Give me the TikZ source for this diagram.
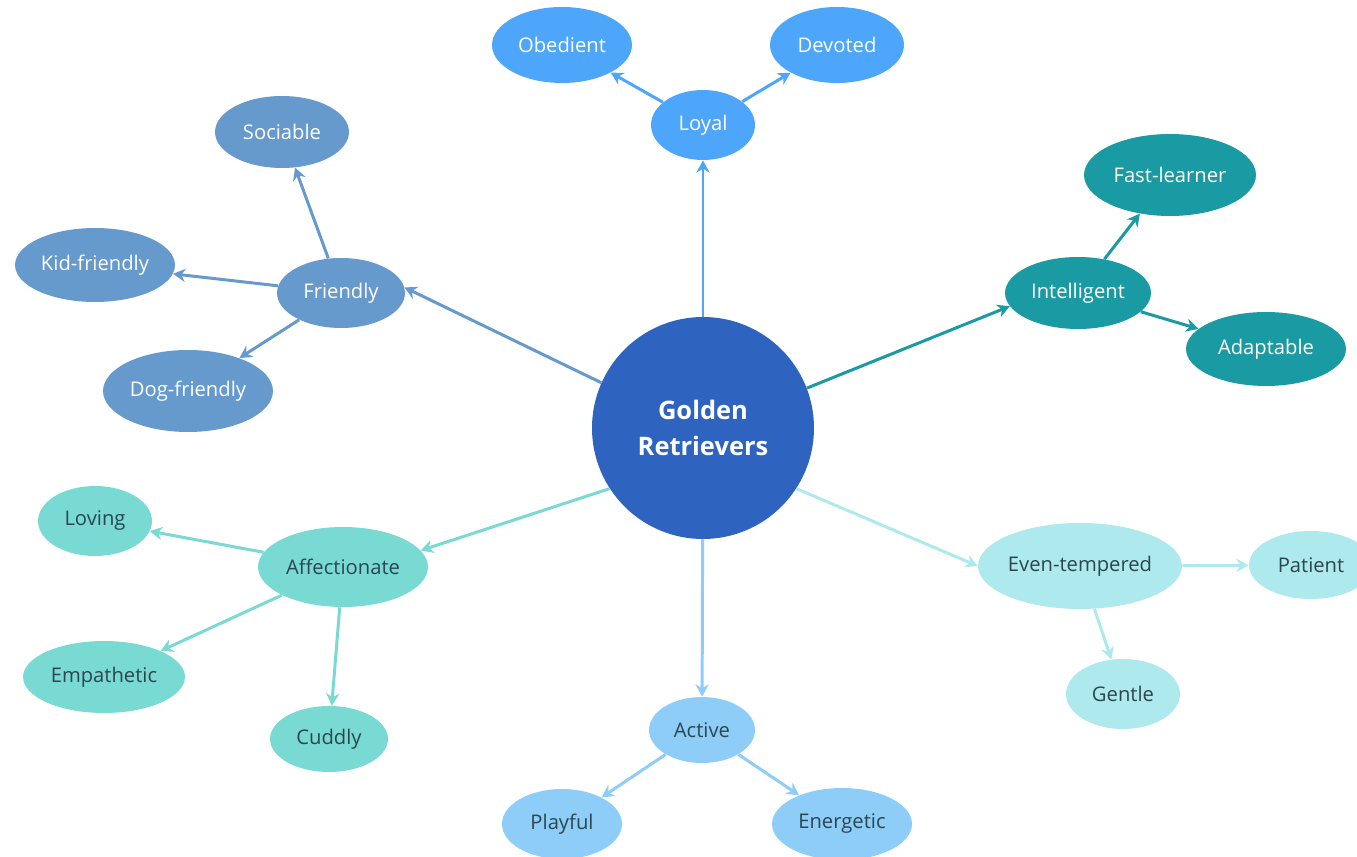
\documentclass[tikz,border=0pt]{standalone}
\usepackage{fontspec}
\setmainfont{Open Sans}
\usetikzlibrary{shapes.geometric,arrows.meta}
\definecolor{cCenter}{HTML}{2F63C0}
\definecolor{cLoyal}{HTML}{4DA6FA}
\definecolor{cFriend}{HTML}{6699CC}
\definecolor{cIntel}{HTML}{1A9AA2}
\definecolor{cAffec}{HTML}{78DAD2}
\definecolor{cEven}{HTML}{AEE9EE}
\definecolor{cActive}{HTML}{8DCDF8}
\definecolor{cDark}{HTML}{2A4750}
\tikzset{
  ell/.style 2 args={ellipse, inner sep=0pt, minimum width=#1*0.04cm, minimum height=#2*0.04cm,
     font=\fontsize{11.5}{13}\selectfont},
  light/.style={fill=#1, text=white},
  darkt/.style={fill=#1, text=cDark},
  con/.style={draw=#1, line width=1.7pt, -{Stealth[length=7pt,width=7.5pt]}},
}
\begin{document}
\begin{tikzpicture}[x=0.02cm,y=-0.02cm]
\useasboundingbox (0,0) rectangle (1357,857);
\fill[white] (0,0) rectangle (1357,857);
% center
\node[circle, fill=cCenter, text=white, minimum size=222*0.02cm, inner sep=0pt, align=center,
      font=\fontsize{14.5}{20}\selectfont\bfseries] (gr) at (703,428) {Golden\\Retrievers};
% Loyal group
\node[ell={52}{35}, light=cLoyal] (loyal) at (703,125) {Loyal};
\node[ell={70}{38}, light=cLoyal] (obed) at (562,45) {Obedient};
\node[ell={67}{38}, light=cLoyal] (devo) at (837,45) {Devoted};
% Friendly group
\node[ell={64}{35}, light=cFriend] (friend) at (341,293) {Friendly};
\node[ell={67}{36}, light=cFriend] (soc) at (282,132) {Sociable};
\node[ell={80}{37}, light=cFriend] (kid) at (95,265) {Kid-friendly};
\node[ell={85}{41}, light=cFriend] (dog) at (188,391) {Dog-friendly};
% Intelligent group
\node[ell={73}{36}, light=cIntel] (intel) at (1078,293) {Intelligent};
\node[ell={86}{41}, light=cIntel] (fast) at (1170,175) {Fast-learner};
\node[ell={80}{37}, light=cIntel] (adapt) at (1266,349) {Adaptable};
% Affectionate group
\node[ell={85}{40}, darkt=cAffec] (affec) at (343,567) {Affectionate};
\node[ell={57}{35}, darkt=cAffec] (lov) at (95,521) {Loving};
\node[ell={81}{36}, darkt=cAffec] (emp) at (104,677) {Empathetic};
\node[ell={59}{33}, darkt=cAffec] (cud) at (329,739) {Cuddly};
% Even-tempered group
\node[ell={100}{43}, darkt=cEven] (even) at (1080,566) {Even-tempered};
\node[ell={62}{34}, darkt=cEven] (pat) at (1311,565) {Patient};
\node[ell={57}{35}, darkt=cEven] (gen) at (1123,694) {Gentle};
% Active group
\node[ell={53}{33}, darkt=cActive] (act) at (702,730) {Active};
\node[ell={60}{35}, darkt=cActive] (play) at (562,824) {Playful};
\node[ell={70}{36}, darkt=cActive] (ener) at (842,824) {Energetic};
% connectors from center
\draw[con=cLoyal] (gr) -- (loyal);
\draw[con=cFriend] (gr.156) -- (friend.5);
\draw[con=cIntel] (gr.21) -- (intel.191);
\draw[con=cAffec] (gr.213) -- (affec.12);
\draw[con=cEven] (gr.327) -- (even.west);
\draw[con=cActive] (gr) -- (act);
% child connectors
\draw[con=cLoyal] (loyal) -- (obed);
\draw[con=cLoyal] (loyal) -- (devo);
\draw[con=cFriend] (friend) -- (soc);
\draw[con=cFriend] (friend) -- (kid);
\draw[con=cFriend] (friend) -- (dog);
\draw[con=cIntel] (intel) -- (fast);
\draw[con=cIntel] (intel) -- (adapt);
\draw[con=cAffec] (affec) -- (lov);
\draw[con=cAffec] (affec) -- (emp);
\draw[con=cAffec] (affec) -- (cud);
\draw[con=cEven] (even) -- (pat);
\draw[con=cEven] (even) -- (gen);
\draw[con=cActive] (act) -- (play);
\draw[con=cActive] (act) -- (ener);
\end{tikzpicture}
\end{document}
